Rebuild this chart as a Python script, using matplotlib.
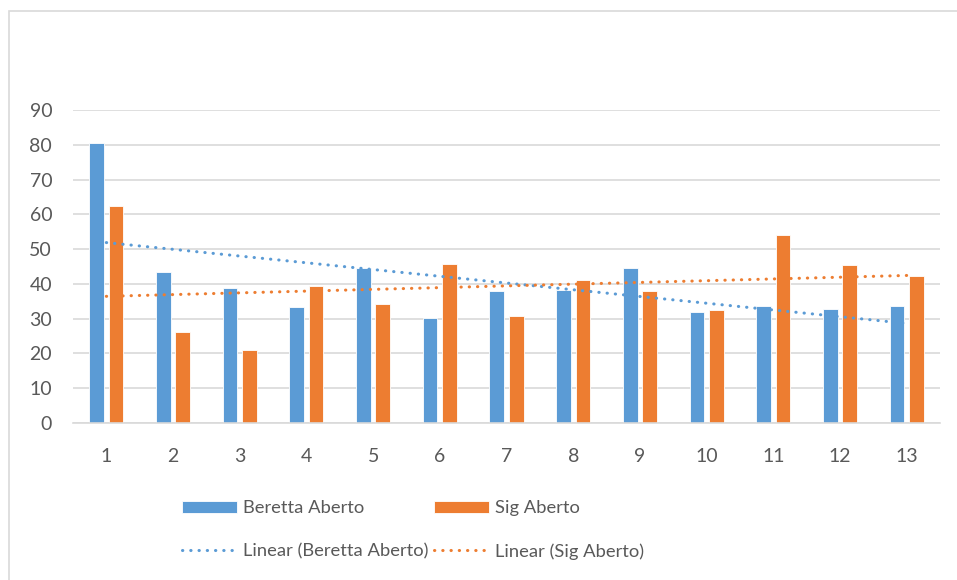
import numpy as np
import matplotlib.pyplot as plt
from matplotlib.patches import Rectangle

categories = ['1', '2', '3', '4', '5', '6', '7', '8', '9', '10', '11', '12', '13']
beretta = [80.6, 43.3, 38.8, 33.3, 44.7, 30.3, 37.9, 38.1, 44.5, 31.9, 33.5, 32.9, 33.5]
sig = [62.4, 26.1, 20.9, 39.3, 34.1, 45.7, 30.7, 41.1, 37.9, 32.6, 54.1, 45.4, 42.2]
yticks = [0, 10, 20, 30, 40, 50, 60, 70, 80, 90]

blue = '#5B9BD5'
orange = '#ED7D31'
grey = '#595959'

plt.rcParams['font.family'] = ['Lato', 'DejaVu Sans']

fig = plt.figure(figsize=(9.57, 5.8), dpi=100)
ax = fig.add_axes([73/957, 1 - 423/580, (940 - 73)/957, (423 - 110)/580])

x = np.arange(1, len(categories) + 1)
w = 0.22
off = 0.145
b1 = ax.bar(x - off, beretta, w, color=blue, edgecolor='white', linewidth=0.6, zorder=2,
            label='Beretta Aberto')
b2 = ax.bar(x + off, sig, w, color=orange, edgecolor='white', linewidth=0.6, zorder=2,
            label='Sig Aberto')

# linear trend lines
dots = (0, (0.1, 2.6))
kb = np.polyfit(x, beretta, 1)
ks = np.polyfit(x, sig, 1)
l1, = ax.plot(x, np.polyval(kb, x), color=blue, lw=2.2, linestyle=dots,
              dash_capstyle='round', zorder=3, label='Linear (Beretta Aberto)')
l2, = ax.plot(x, np.polyval(ks, x), color=orange, lw=2.2, linestyle=dots,
              dash_capstyle='round', zorder=3, label='Linear (Sig Aberto)')

ax.set_xlim(0.5, len(categories) + 0.5)
ax.set_ylim(0, 90)
ax.set_yticks(yticks)
ax.set_xticks(x)
ax.set_xticklabels(categories)
ax.grid(axis='y', color='#D9D9D9', lw=1.2, zorder=0)
ax.set_axisbelow(True)
for s in ['top', 'right', 'left']:
    ax.spines[s].set_visible(False)
ax.spines['bottom'].set_color('#D9D9D9')
ax.spines['bottom'].set_linewidth(1.2)
ax.tick_params(length=0, labelsize=14, labelcolor=grey)
ax.tick_params(axis='y', pad=15)
ax.tick_params(axis='x', pad=18)

fig.legend(handles=[b1, l1, b2, l2], ncol=2, frameon=False, fontsize=13.2,
           labelcolor=grey, loc='center left', bbox_to_anchor=(182/957, 1 - 530/580),
           borderpad=0, borderaxespad=0,
           handlelength=3.0, handleheight=0.7, handletextpad=0.33, columnspacing=0.3,
           labelspacing=1.45)

fig.add_artist(Rectangle((9/957, -0.05), 1.0, 1 - 11/580 + 0.05, transform=fig.transFigure,
                         fill=False, edgecolor='#D9D9D9', lw=1.2))

fig.savefig('out.png', dpi=100)
